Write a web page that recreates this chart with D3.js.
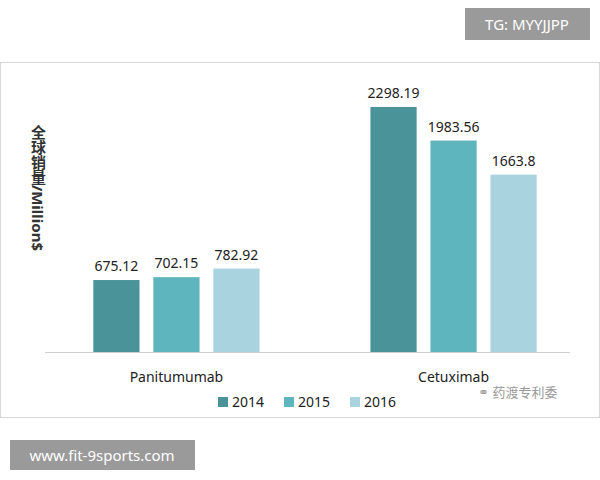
<!DOCTYPE html>
<html><head><meta charset="utf-8">
<script src="https://cdn.jsdelivr.net/npm/d3@7"></script>
<style>body{margin:0;background:#fff}</style></head>
<body><svg id="c" width="600" height="480"></svg>
<script>
const categories = ["Panitumumab", "Cetuximab"];
const years = ["2014", "2015", "2016"];
const v2014 = [675.12, 2298.19];
const v2015 = [702.15, 1983.56];
const v2016 = [782.92, 1663.8];
const labels2016 = ["782.92", "1663.8"];
const colors = ["#4a9499", "#5fb5bd", "#a9d3de"];
const series = [v2014, v2015, v2016];

const svg = d3.select("#c");
const font = "'Noto Sans','Noto Sans CJK SC',sans-serif";
svg.append("rect").attr("x",0.5).attr("y",62.5).attr("width",599).attr("height",355)
  .attr("fill","#fff").attr("stroke","#d8d8d8");

const x0 = d3.scaleBand().domain(categories).range([85, 545]).paddingInner(0.4).paddingOuter(0.03);
const x1 = d3.scaleBand().domain(years).range([0, x0.bandwidth()]).paddingInner(0.23);
const y = d3.scaleLinear().domain([0, 2298.19]).range([352, 107]);

categories.forEach((c, i) => {
  series.forEach((s, j) => {
    const bx = x0(c) + x1(years[j]);
    svg.append("rect").attr("x", bx).attr("y", y(s[i])).attr("width", x1.bandwidth())
      .attr("height", y(0) - y(s[i])).attr("fill", colors[j]);
    const lab = j === 2 ? labels2016[i] : d3.format(".2f")(s[i]);
    svg.append("text").attr("x", bx + x1.bandwidth()/2).attr("y", y(s[i]) - 9)
      .attr("text-anchor","middle").attr("font-family",font).attr("font-size",14)
      .attr("fill","#222").text(lab);
  });
  svg.append("text").attr("x", x0(c) + x0.bandwidth()/2).attr("y", 382)
    .attr("text-anchor","middle").attr("font-family",font).attr("font-size",14)
    .attr("fill","#222").text(c);
});
svg.append("line").attr("x1",45).attr("x2",570).attr("y1",352.5).attr("y2",352.5)
  .attr("stroke","#cfcfcf");

svg.append("text").attr("x",38).attr("y",125).attr("writing-mode","vertical-rl")
  .attr("font-family",font).attr("font-size",15).attr("font-weight","bold")
  .attr("fill","#333").text("全球销量/Million$");

years.forEach((yr, j) => {
  const lx = 218 + j*66;
  svg.append("rect").attr("x",lx).attr("y",397).attr("width",10).attr("height",10).attr("fill",colors[j]);
  svg.append("text").attr("x",lx+14).attr("y",407).attr("font-family",font).attr("font-size",14)
    .attr("fill","#222").text(yr);
});

svg.append("text").attr("x",478).attr("y",397).attr("font-family",font).attr("font-size",13)
  .attr("fill","#999").text("⚭ 药渡专利委");

svg.append("rect").attr("x",465).attr("y",8).attr("width",125).attr("height",32).attr("fill","#9a9a9a");
svg.append("text").attr("x",527).attr("y",30).attr("text-anchor","middle").attr("font-family",font)
  .attr("font-size",15).attr("fill","#fff").text("TG: MYYJJPP");
svg.append("rect").attr("x",10).attr("y",440).attr("width",185).attr("height",30).attr("fill","#9a9a9a");
svg.append("text").attr("x",102).attr("y",461).attr("text-anchor","middle").attr("font-family",font)
  .attr("font-size",15).attr("fill","#fff").text("www.fit-9sports.com");
</script></body></html>
